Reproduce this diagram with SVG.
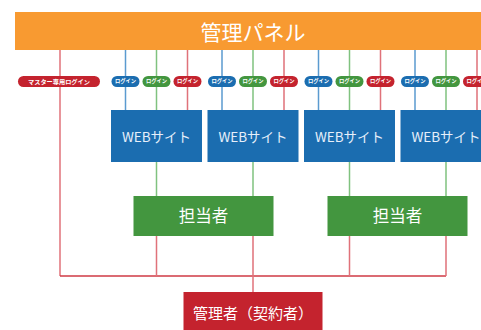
<svg xmlns="http://www.w3.org/2000/svg" width="481" height="330" viewBox="0 0 481 330">
<style>
text{font-family:"Noto Sans CJK JP","Noto Sans",sans-serif;fill:#fff;text-anchor:middle}
.lb{stroke:#5b9bd0;stroke-width:1.5;fill:none}
.lg{stroke:#80c27f;stroke-width:1.5;fill:none}
.lr{stroke:#e0727a;stroke-width:1.5;fill:none}
.lh{stroke:#cf3a44;stroke-width:1.5;fill:none}
.web{fill:#1b6db0}
.tan{fill:#43963f}
.pb{fill:#1b6db0}.pg{fill:#43963f}.pr{fill:#c4232e}
.pt{font-size:5.3px;font-weight:bold}
.wt{font-size:13.5px;fill:#e6effa}
</style>
<g id="connectors">
  <path class="lr" d="M60 50V276"/>
  <path class="lh" d="M60 276H446"/>
  <path class="lr" d="M253 276V292"/>
  <path class="lb" d="M125.5 50V110M222 50V110M318.5 50V110M415 50V110"/>
  <path class="lg" d="M156.5 50V110M253 50V110M349.5 50V110M446 50V110"/>
  <path class="lr" d="M187.5 50V110M284 50V110M380.5 50V110M477 50V110"/>
  <path class="lg" d="M156.5 162V196M253 162V196M349.5 162V196M446 162V196"/>
  <path class="lr" d="M156.5 236V276M253 236V276M349.5 236V276M446 236V276"/>
</g>
<g id="panel">
  <rect x="15" y="12" width="470" height="38" fill="#f89a31"/>
  <text x="253" y="39.5" font-size="21">管理パネル</text>
</g>
<g id="master-login">
  <rect class="pr" x="18" y="76" width="82" height="11" rx="5.5"/>
  <text x="59" y="83.6" font-size="6.2" font-weight="bold">マスター専用ログイン</text>
</g>
<g id="logins">
  <rect class="pb" x="111.5" y="76" width="28" height="11" rx="5.5"/><text class="pt" x="125.5" y="83.3">ログイン</text>
  <rect class="pg" x="142.5" y="76" width="28" height="11" rx="5.5"/><text class="pt" x="156.5" y="83.3">ログイン</text>
  <rect class="pr" x="173.5" y="76" width="28" height="11" rx="5.5"/><text class="pt" x="187.5" y="83.3">ログイン</text>
  <rect class="pb" x="208" y="76" width="28" height="11" rx="5.5"/><text class="pt" x="222" y="83.3">ログイン</text>
  <rect class="pg" x="239" y="76" width="28" height="11" rx="5.5"/><text class="pt" x="253" y="83.3">ログイン</text>
  <rect class="pr" x="270" y="76" width="28" height="11" rx="5.5"/><text class="pt" x="284" y="83.3">ログイン</text>
  <rect class="pb" x="304.5" y="76" width="28" height="11" rx="5.5"/><text class="pt" x="318.5" y="83.3">ログイン</text>
  <rect class="pg" x="335.5" y="76" width="28" height="11" rx="5.5"/><text class="pt" x="349.5" y="83.3">ログイン</text>
  <rect class="pr" x="366.5" y="76" width="28" height="11" rx="5.5"/><text class="pt" x="380.5" y="83.3">ログイン</text>
  <rect class="pb" x="401" y="76" width="28" height="11" rx="5.5"/><text class="pt" x="415" y="83.3">ログイン</text>
  <rect class="pg" x="432" y="76" width="28" height="11" rx="5.5"/><text class="pt" x="446" y="83.3">ログイン</text>
  <rect class="pr" x="463" y="76" width="28" height="11" rx="5.5"/><text class="pt" x="477" y="83.3">ログイン</text>
</g>
<g id="web1"><rect class="web" x="111" y="110" width="91" height="52"/><text class="wt" x="156.5" y="141.5">WEBサイト</text></g>
<g id="web2"><rect class="web" x="207.5" y="110" width="91" height="52"/><text class="wt" x="253" y="141.5">WEBサイト</text></g>
<g id="web3"><rect class="web" x="304" y="110" width="91" height="52"/><text class="wt" x="349.5" y="141.5">WEBサイト</text></g>
<g id="web4"><rect class="web" x="400.5" y="110" width="91" height="52"/><text class="wt" x="446" y="141.5">WEBサイト</text></g>
<g id="tanto1"><rect class="tan" x="133.5" y="196" width="140" height="40"/><text x="203.5" y="222" font-size="16.5">担当者</text></g>
<g id="tanto2"><rect class="tan" x="327.5" y="196" width="140" height="40"/><text x="397.5" y="222" font-size="16.5">担当者</text></g>
<g id="admin"><rect x="183.5" y="292" width="139" height="42" fill="#c4232e"/><text x="253" y="318.5" font-size="15">管理者（契約者）</text></g>
</svg>
